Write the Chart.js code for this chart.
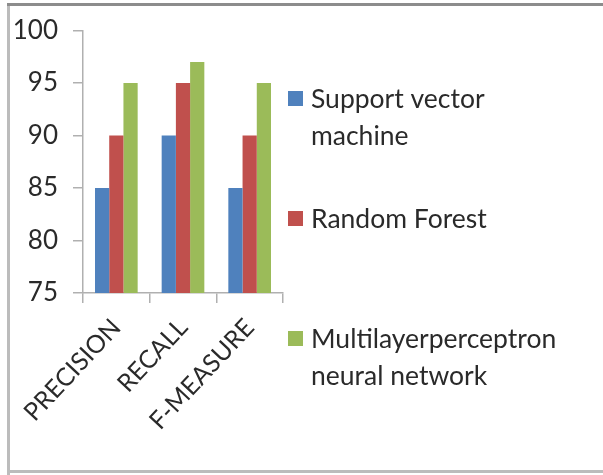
<!DOCTYPE html>
<html>
<head>
<meta charset="utf-8">
<script src="https://cdn.jsdelivr.net/npm/chart.js@4"></script>
<style>
  html, body { margin: 0; padding: 0; background: #fff; }
  #wrap { position: relative; width: 603px; height: 475px; }
</style>
</head>
<body>
<div id="wrap"><canvas id="c" width="603" height="475"></canvas></div>
<script>
// Classifier comparison on three evaluation measures
const categories = ['PRECISION', 'RECALL', 'F-MEASURE'];
const seriesNames = [['Support vector', 'machine'], ['Random Forest'], ['Multilayerperceptron', 'neural network']];
const svmValues = [85, 90, 85];
const rfValues = [90, 95, 90];
const mlpValues = [95, 97, 95];
const yTicks = [75, 80, 85, 90, 95, 100];

const colors = ['#4F81BD', '#C0504D', '#9BBB59'];
const FONT = 'Lato, "Open Sans", sans-serif';
const AXIS = '#b0b0b0';

// Outer frame plus a side legend with wrapped entries
const framePlugin = {
  id: 'frame',
  beforeDraw(chart) {
    const ctx = chart.ctx;
    ctx.save();
    ctx.lineWidth = 3;
    ctx.strokeStyle = '#bcbcbc';
    ctx.beginPath();
    ctx.moveTo(8.5, 475);
    ctx.lineTo(8.5, 5);
    ctx.moveTo(8.5, 471.5);
    ctx.lineTo(603, 471.5);
    ctx.stroke();
    ctx.strokeStyle = '#8c8c8c';
    ctx.beginPath();
    ctx.moveTo(7, 4.5);
    ctx.lineTo(603, 4.5);
    ctx.stroke();
    ctx.restore();
  }
};

const sideLegend = {
  id: 'sideLegend',
  afterDraw(chart) {
    const ctx = chart.ctx;
    const rows = [108, 228, 348];
    ctx.save();
    ctx.font = '26.5px ' + FONT;
    ctx.textBaseline = 'alphabetic';
    ctx.textAlign = 'left';
    chart.data.datasets.forEach((ds, i) => {
      const base = rows[i];
      ctx.fillStyle = ds.backgroundColor;
      ctx.fillRect(288, base - 17, 15, 15);
      ctx.fillStyle = '#2a2a2a';
      seriesNames[i].forEach((line, j) => {
        ctx.fillText(line, 311, base + j * 37);
      });
    });
    ctx.restore();
  }
};

new Chart(document.getElementById('c'), {
  type: 'bar',
  data: {
    labels: categories,
    datasets: [
      { label: seriesNames[0].join(' '), data: svmValues, backgroundColor: colors[0] },
      { label: seriesNames[1].join(' '), data: rfValues, backgroundColor: colors[1] },
      { label: seriesNames[2].join(' '), data: mlpValues, backgroundColor: colors[2] }
    ]
  },
  options: {
    responsive: false,
    animation: false,
    layout: { padding: { left: 10, top: 29, right: 320, bottom: 6 } },
    datasets: { bar: { categoryPercentage: 0.64, barPercentage: 1.0 } },
    plugins: { legend: { display: false }, tooltip: { enabled: false } },
    scales: {
      x: {
        grid: { display: true, drawOnChartArea: false, tickLength: 10, color: AXIS, lineWidth: 1.5, offset: true },
        border: { color: AXIS, width: 1.5 },
        ticks: {
          color: '#2a2a2a', font: { family: FONT, size: 25 },
          minRotation: 47, maxRotation: 47, padding: 10, autoSkip: false
        },
        afterFit(scale) {
          scale.height = 475 - 293 - 6;
          scale.paddingLeft = 0;
          scale.paddingRight = 0;
        }
      },
      y: {
        min: 75, max: 100,
        afterBuildTicks(scale) { scale.ticks = yTicks.map(v => ({ value: v })); },
        grid: { display: true, drawOnChartArea: false, tickLength: 10, color: AXIS, lineWidth: 1.5 },
        border: { color: AXIS, width: 1.5 },
        ticks: { color: '#2a2a2a', font: { family: FONT, size: 26 }, padding: 15 },
        afterFit(scale) { scale.width = 83 - 10; }
      }
    }
  },
  plugins: [framePlugin, sideLegend]
});
</script>
</body>
</html>
